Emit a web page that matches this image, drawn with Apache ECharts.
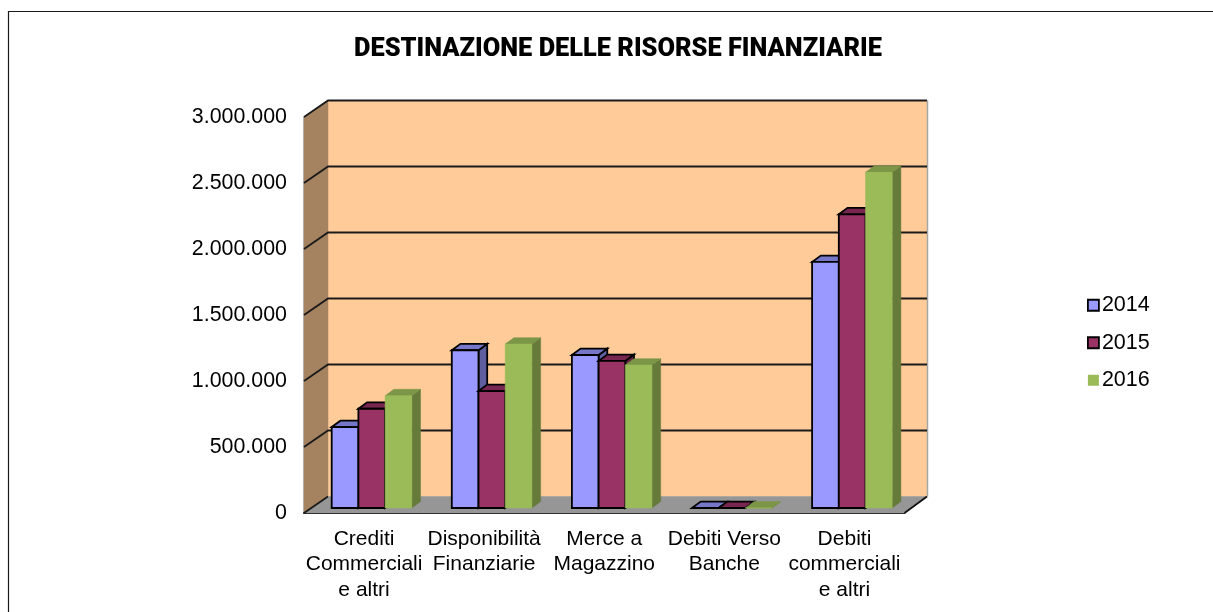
<!DOCTYPE html>
<html>
<head>
<meta charset="utf-8">
<style>html,body{margin:0;padding:0;background:#fff}#c{width:1213px;height:612px}</style>
<script src="https://cdn.jsdelivr.net/npm/echarts@6/dist/echarts.min.js"></script>
</head>
<body>
<div id="c"></div>
<script>
const titleText = 'DESTINAZIONE DELLE RISORSE FINANZIARIE';
const categories = ['Crediti\nCommerciali\ne altri', 'Disponibilità\nFinanziarie', 'Merce a\nMagazzino', 'Debiti Verso\nBanche', 'Debiti\ncommerciali\ne altri'];
const years = ['2014', '2015', '2016'];
const values2014 = [613000, 1195000, 1159000, 0, 1864000];
const values2015 = [752000, 886000, 1114000, 0, 2225000];
const values2016 = [851000, 1242000, 1083000, 0, 2543000];
const yTicks = [0, 500000, 1000000, 1500000, 2000000, 2500000, 3000000];

const WALL_L = 24, WALL_R = 22.5, WALL_Y = -16.5;   // depth of the chart box
const BAR_POS = [7.7, -5];    // where the bars stand on the floor
const BAR_DEPTH = [8.7, -6.4];
const BAR_W = 26.7;

const styles = [
  { front: '#9999FF', top: '#7777C8', side: '#5F5FA0', stroke: '#000' },
  { front: '#993366', top: '#772650', side: '#6B2448', stroke: '#000' },
  { front: '#9BBB59', top: '#7C9647', side: '#667A3A', stroke: null }
];

function fmt(v) { return String(v).replace(/\B(?=(\d{3})+(?!\d))/g, '.'); }

function poly(points, fill, stroke, lw) {
  return { type: 'polygon', shape: { points }, style: { fill, stroke: stroke || fill, lineWidth: stroke ? (lw || 1.8) : 0.5, lineJoin: 'miter' } };
}

function barSeries(idx, values) {
  const st = styles[idx];
  return {
    name: years[idx], type: 'custom', coordinateSystem: 'cartesian2d', clip: false, z: 3 + idx,
    itemStyle: { color: st.front },
    encode: { x: 0, y: 1 },
    data: values.map((v, i) => [i, v]),
    renderItem(params, api) {
      const base = api.coord([api.value(0), 0]);
      const top = api.coord([api.value(0), api.value(1)]);
      const x0 = base[0] + BAR_POS[0] + (idx - 1.5) * BAR_W;
      const x1 = x0 + BAR_W;
      const yb = base[1] + BAR_POS[1];
      const yt = top[1] + BAR_POS[1];
      const dx = BAR_DEPTH[0], dy = BAR_DEPTH[1];
      return { type: 'group', children: [
        poly([[x1, yb], [x1 + dx, yb + dy], [x1 + dx, yt + dy], [x1, yt]], st.side, st.stroke),
        poly([[x0, yt], [x0 + dx, yt + dy], [x1 + dx, yt + dy], [x1, yt]], st.top, st.stroke),
        poly([[x0, yb], [x0, yt], [x1, yt], [x1, yb]], st.front, st.stroke)
      ] };
    }
  };
}

const frameSeries = {
  type: 'custom', coordinateSystem: 'cartesian2d', clip: false, z: 1, silent: true,
  encode: { y: 0 },
  data: yTicks.map(v => [v]),
  renderItem(params, api) {
    const cs = params.coordSys;
    const xL = cs.x, xR = cs.x + cs.width, yB = cs.y + cs.height, yT = cs.y;
    const bL = xL + WALL_L, bR = xR + WALL_R, dy = WALL_Y;
    const tick = api.value(0);
    const y = api.coord([0, tick])[1];
    const children = [];
    if (params.dataIndex === 0) {
      children.push(
        poly([[bL, yB + dy], [bR, yB + dy], [bR, yT + dy], [bL, yT + dy]], '#FFCC99'),
        poly([[xL, yB], [bL, yB + dy], [bL, yT + dy], [xL, yT]], '#A68360'),
        poly([[xL, yB], [bL, yB + dy], [bR, yB + dy], [xR, yB]], '#969696'),
        { type: 'line', shape: { x1: bR + 0.5, y1: yT + dy, x2: bR + 0.5, y2: yB + dy }, style: { stroke: '#A6A6A6', lineWidth: 1.5 } },
        { type: 'line', shape: { x1: xR, y1: yB, x2: bR, y2: yB + dy }, style: { stroke: '#111', lineWidth: 1.8 } }
      );
    }
    children.push({ type: 'polyline', shape: { points: tick === 0
      ? [[xL, y], [bL, y + dy]]
      : [[xL, y], [bL, y + dy], [bR, y + dy]] }, style: { fill: null, stroke: '#1a1a1a', lineWidth: 1.8 } });
    return { type: 'group', children };
  }
};

const chart = echarts.init(document.getElementById('c'), null, { renderer: 'canvas' });
chart.setOption({
  animation: false,
  backgroundColor: '#fff',
  textStyle: { fontFamily: '"Liberation Sans", Arial, sans-serif' },
  title: {
    text: titleText, left: 354, top: 37, padding: 0,
    textStyle: { fontFamily: 'Roboto', fontWeight: 900, fontSize: 25.4, color: '#000' }
  },
  graphic: [
    { type: 'polyline', silent: true, shape: { points: [[8.5, 612], [8.5, 11.5], [1213, 11.5]] }, style: { fill: null, stroke: '#1a1a1a', lineWidth: 1.2 } }
  ],
  legend: {
    orient: 'vertical', left: 1087, top: 293, itemWidth: 11, itemHeight: 11, itemGap: 13, padding: 0,
    textStyle: { fontFamily: '"Liberation Sans"', fontSize: 21.5, lineHeight: 24.5, color: '#000', padding: [0, 0, 0, -2] },
    data: years.map((y, i) => ({ name: y, icon: 'rect', itemStyle: { color: styles[i].front, borderColor: styles[i].stroke || styles[i].front, borderWidth: styles[i].stroke ? 1.8 : 0 } }))
  },
  grid: { left: 304, right: 308.5, top: 117, bottom: 99, containLabel: false },
  xAxis: {
    type: 'category', data: categories, boundaryGap: true,
    axisLine: { show: true, lineStyle: { color: '#111', width: 2 } },
    axisTick: { show: false }, splitLine: { show: false },
    axisLabel: { interval: 0, color: '#000', fontSize: 21, lineHeight: 25.5, margin: 13, fontFamily: '"Liberation Sans"', hideOverlap: false }
  },
  yAxis: {
    type: 'value', min: 0, max: 3000000, interval: 500000,
    axisLine: { show: true, lineStyle: { color: '#A6A6A6', width: 1.5 } },
    axisTick: { show: false }, splitLine: { show: false },
    axisLabel: { color: '#000', fontSize: 21.4, margin: 17, padding: [3, 0, 0, 0], fontFamily: '"Liberation Sans"', formatter: v => fmt(v) }
  },
  series: [frameSeries, barSeries(0, values2014), barSeries(1, values2015), barSeries(2, values2016)]
});
</script>
</body>
</html>
